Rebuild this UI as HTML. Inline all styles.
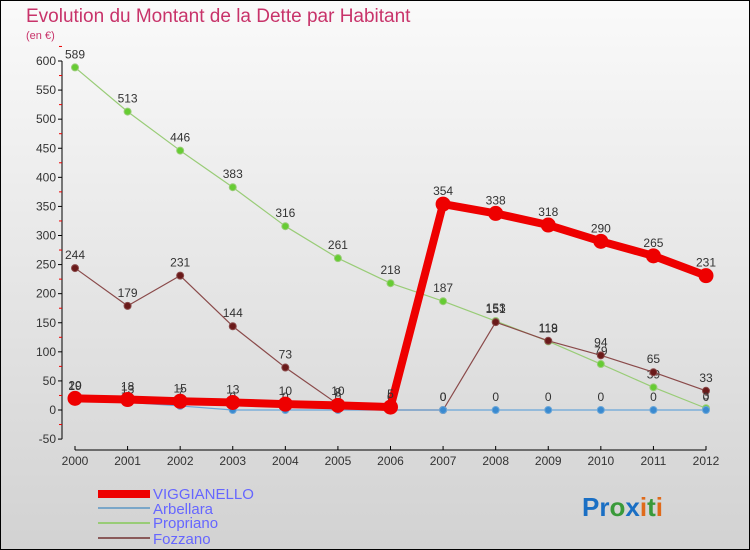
<!DOCTYPE html>
<html><head><meta charset="utf-8"><style>
body{margin:0;}
#wrap{width:750px;height:550px;position:relative;overflow:hidden;background:linear-gradient(#fafafa,#d2d2d2);font-family:"Liberation Sans","DejaVu Sans",sans-serif;}
svg text{font-family:"Liberation Sans","DejaVu Sans",sans-serif;}
</style></head><body>
<div id="wrap">
<svg id="chart" width="750" height="550">
<rect x="0.5" y="0.5" width="749" height="549" fill="none" stroke="#000"/>
<text x="26" y="22" font-size="19" fill="#c8336a">Evolution du Montant de la Dette par Habitant</text>
<text x="26" y="39" font-size="11" fill="#c8336a">(en €)</text>
<g id="axes"></g><g id="series"></g>
<g>
<rect x="98" y="490" width="52" height="8" fill="#e00"/>
<text x="153" y="499" font-size="15" fill="#6666ff">VIGGIANELLO</text>
<line x1="98" y1="508" x2="150" y2="508" stroke="#7aa6c8" stroke-width="2"/>
<text x="153" y="514" font-size="15" fill="#6666ff">Arbellara</text>
<line x1="98" y1="523" x2="150" y2="523" stroke="#99cc77" stroke-width="2"/>
<text x="153" y="528" font-size="15" fill="#6666ff">Propriano</text>
<line x1="98" y1="538" x2="150" y2="538" stroke="#8a5a5a" stroke-width="2"/>
<text x="153" y="544" font-size="15" fill="#6666ff">Fozzano</text>
</g>
<text x="582" y="516" font-size="26" font-weight="bold"><tspan fill="#1a6fc4">Pr</tspan><tspan fill="#3a9a3a">o</tspan><tspan fill="#1a6fc4">x</tspan><tspan fill="#e06a1a">i</tspan><tspan fill="#3a9a3a">t</tspan><tspan fill="#e06a1a">i</tspan></text>
</svg>
</div>
<script>
const years=[2000,2001,2002,2003,2004,2005,2006,2007,2008,2009,2010,2011,2012];
const yTicks=[-50,0,50,100,150,200,250,300,350,400,450,500,550,600];
const viggianello=[20,18,15,13,10,8,5,354,338,318,290,265,231];
const arbellara=[19,13,7,0,0,0,0,0,0,0,0,0,0];
const propriano=[589,513,446,383,316,261,218,187,153,118,79,39,3];
const fozzano=[244,179,231,144,73,10,0,0,151,119,94,65,33];
const NS="http://www.w3.org/2000/svg";
const xS=i=>75+i*(706-75)/(years.length-1);
const yS=v=>410-v*(349/600);
function mk(t,a,p){const e=document.createElementNS(NS,t);for(const k in a)e.setAttribute(k,a[k]);p.appendChild(e);return e;}
const ax=document.getElementById('axes');
const yl=mk('line',{x1:62,y1:yS(600),x2:62,y2:yS(-50),stroke:'#000'},ax);


const xl=mk('line',{x1:75,y1:450,x2:706,y2:450,stroke:'#000'},ax);


yTicks.forEach(v=>{
 mk('line',{x1:58,y1:yS(v),x2:62,y2:yS(v),stroke:'#000'},ax);
 mk('line',{x1:59,y1:yS(v+25),x2:62,y2:yS(v+25),stroke:'#e00'},ax);
 const t=mk('text',{x:56,y:yS(v)+4,'font-size':12,fill:'#333','text-anchor':'end'},ax);
 t.textContent=v;
 
 
});
years.forEach((y,i)=>{
 mk('line',{x1:xS(i),y1:446,x2:xS(i),y2:450,stroke:'#000'},ax);
 const t=mk('text',{x:xS(i),y:465,'font-size':12,fill:'#333','text-anchor':'middle'},ax);
 t.textContent=y;
 
 
});
const sg=document.getElementById('series');
function draw(name,vals,color,w,r,dot,labels){
 const g=mk('g',{},sg);
 
 
 const p=mk('polyline',{points:vals.map((v,i)=>xS(i)+','+yS(v)).join(' '),fill:'none',stroke:color,'stroke-width':w,'stroke-linejoin':'round'},g);
 
 
 vals.forEach((v,i)=>{
  const c=mk('circle',{cx:xS(i),cy:yS(v),r:r,fill:dot,stroke:color,'stroke-width':1},g);
  
  
  if(labels){const t=mk('text',{x:xS(i),y:yS(v)-9,'font-size':12,fill:'#333','text-anchor':'middle'},g);
  t.textContent=v;
  
  }
 });
}
draw('propriano',propriano,'#99cc77',1.2,3.5,'#66cc33',true);
draw('fozzano',fozzano,'#8a4a4a',1.2,3.5,'#6a1a1a',true);
draw('arbellara',arbellara,'#6aa6d8',1.2,3.5,'#3a8ad0',true);
draw('viggianello',viggianello,'#ee0000',8,7,'#ee0000',true);
</script>
</body></html>
